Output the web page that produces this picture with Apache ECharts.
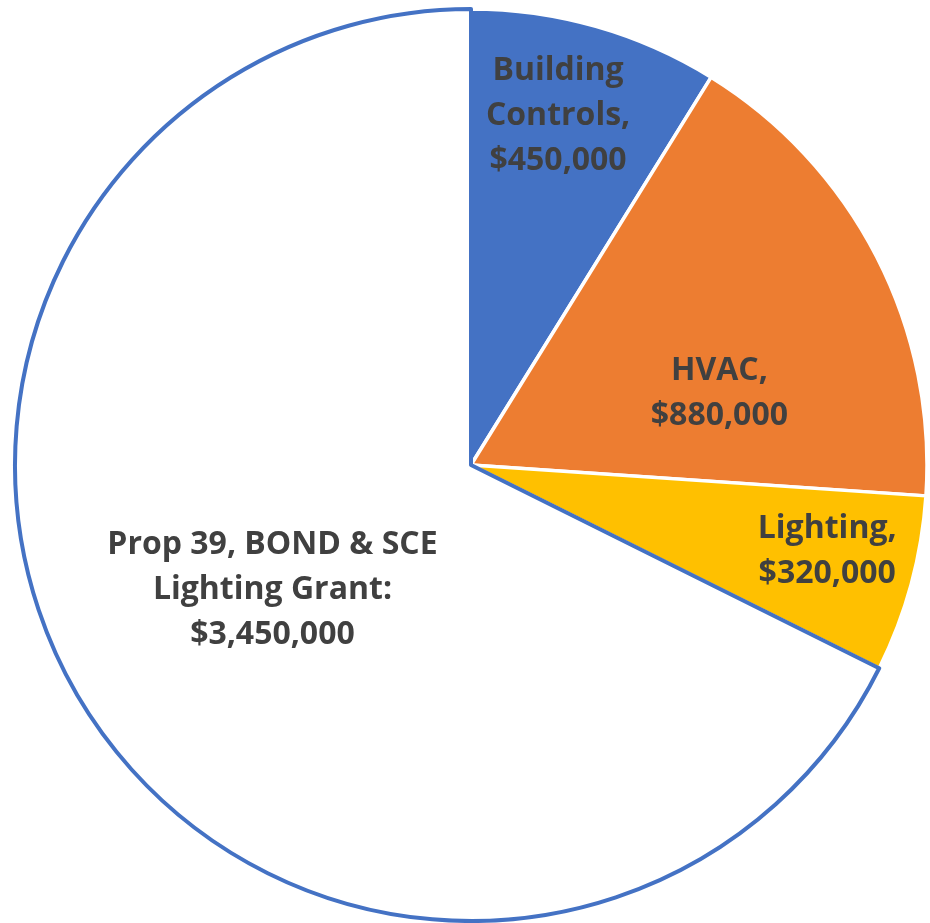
<!DOCTYPE html>
<html><head><meta charset="utf-8">
<script src="https://cdn.jsdelivr.net/npm/echarts@6/dist/echarts.min.js"></script>
<style>html,body{margin:0;padding:0;background:#fff}#c{width:930px;height:923px}</style>
</head><body><div id="c"></div>
<script>
const categories = ["Building Controls", "HVAC", "Lighting", "Prop 39, BOND & SCE Lighting Grant"];
const values = [450000, 880000, 320000, 3450000];
const labelTexts = ["Building\nControls,\n$450,000", "HVAC,\n$880,000", "Lighting,\n$320,000", "Prop 39, BOND & SCE\nLighting Grant:\n$3,450,000"];
const colors = ["#4472C4", "#ED7D31", "#FFC000", "#FFFFFF"];
const borderColors = ["#FFFFFF", "#FFFFFF", "#FFFFFF", "#4472C4"];
const borderWidths = [3.5, 3.5, 3.5, 4];
// label anchor: fraction of radius, angle clockwise from top (deg)
const labelRadius = [0.789, 0.567, 0.804, 0.514];
const labelAngle = [14.0, 73.9, 103.7, 237.9];

const CX = 471, CY = 465, R = 456;
const chart = echarts.init(document.getElementById('c'), null, {renderer: 'canvas'});
chart.setOption({
  animation: false,
  series: [{
    type: 'pie',
    center: [CX, CY],
    radius: [0, R],
    startAngle: 90,
    clockwise: true,
    avoidLabelOverlap: false,
    data: categories.map((c, i) => ({
      name: c, value: values[i],
      itemStyle: {color: colors[i], borderColor: borderColors[i], borderWidth: borderWidths[i]},
      label: {formatter: labelTexts[i]}
    })),
    label: {
      show: true, position: 'inside',
      color: '#404040', fontFamily: 'Open Sans', fontWeight: 'bold', fontSize: 32,
      lineHeight: 45, align: 'center'
    },
    labelLine: {show: false},
    labelLayout: function (p) {
      const i = p.dataIndex;
      const a = labelAngle[i] * Math.PI / 180;
      const r = labelRadius[i] * R;
      return {x: CX + r * Math.sin(a), y: CY - r * Math.cos(a), align: 'center', verticalAlign: 'middle'};
    },
    emphasis: {disabled: true}
  }]
});
</script></body></html>
